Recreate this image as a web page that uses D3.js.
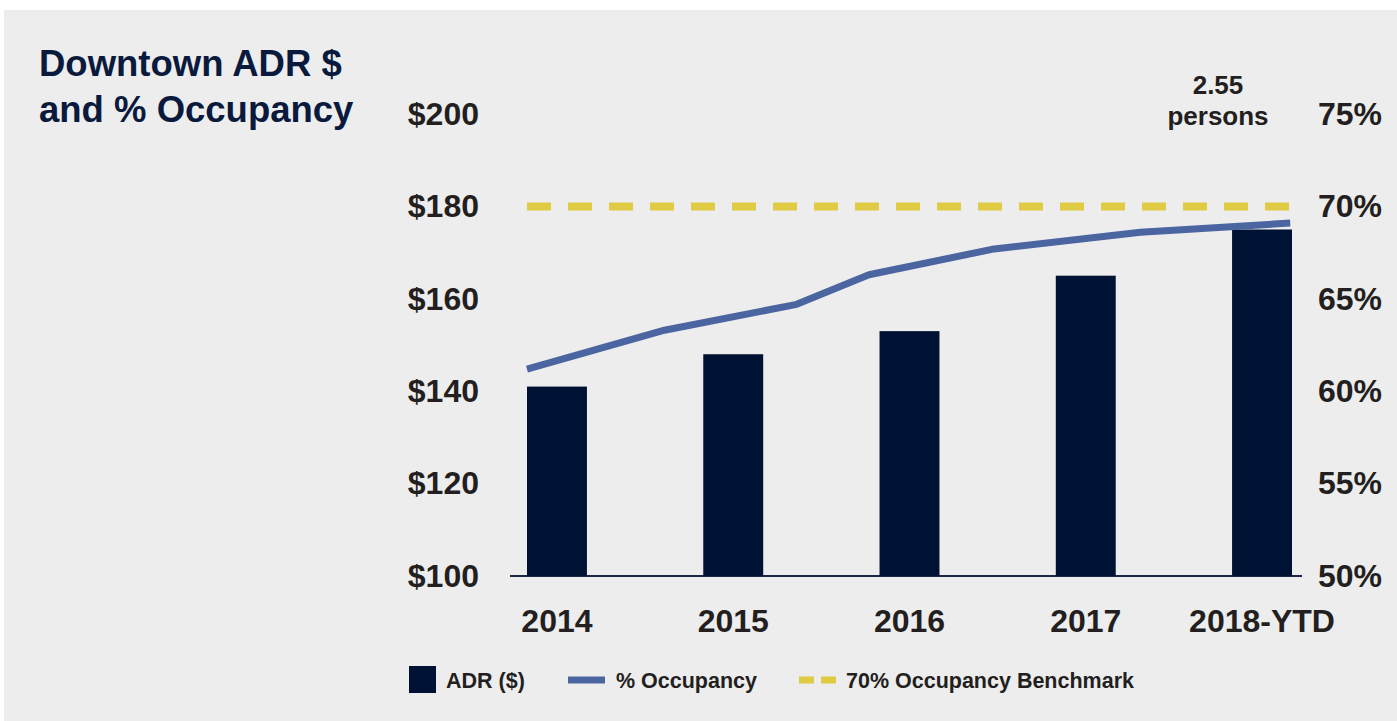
<!DOCTYPE html>
<html>
<head>
<meta charset="utf-8">
<script src="https://cdn.jsdelivr.net/npm/d3@7"></script>
<style>
  body { margin: 0; background: #ffffff; }
  text { font-family: "Liberation Sans", Arial, sans-serif; font-weight: bold; }
</style>
</head>
<body>
<div id="chart"></div>
<script>
// chart data
let years = ['2014', '2015', '2016', '2017', '2018-YTD'];
let adrValues = [141, 148, 153, 165, 175];

// occupancy line points (position in years, value in %)
let occYears = [2013.83, 2014.61, 2015.36, 2015.77, 2016.48, 2017.31, 2018.16];
let occValues = [61.2, 63.3, 64.7, 66.3, 67.7, 68.6, 69.1];

let benchmark = 70;
let adrTicks = [100, 120, 140, 160, 180, 200];
let occTicks = [50, 55, 60, 65, 70, 75];
let legendLabels = ['ADR ($)', '% Occupancy', '70% Occupancy Benchmark'];

let width = 1397, height = 721;
let margin = {top: 114, right: 95, bottom: 145, left: 510};
let innerW = width - margin.left - margin.right;
let innerH = height - margin.top - margin.bottom;

let barColor = '#001233', lineColor = '#4a65a0', benchColor = '#e0cb44';
let textColor = '#231f20', titleColor = '#0a1a3d';

let svg = d3.select('#chart')
    .append('svg')
    .attr('width', width)
    .attr('height', height);

// grey panel
svg.append('rect')
    .attr('x', 4).attr('y', 10)
    .attr('width', width - 4).attr('height', height - 10)
    .attr('fill', '#ededed');

// title
let title = svg.append('text')
    .attr('fill', titleColor)
    .style('font-size', '36.5px');
title.append('tspan').attr('x', 39).attr('y', 76).text('Downtown ADR $');
title.append('tspan').attr('x', 39).attr('y', 122).text('and % Occupancy');

let g = svg.append('g')
    .attr('transform', 'translate(' + margin.left + ',' + margin.top + ')');

// scales
let x = d3.scaleBand()
    .domain(years)
    .range([17, innerW - 10])
    .paddingInner(0.66)
    .paddingOuter(0);

let xYear = d3.scaleLinear()
    .domain([2014, 2018])
    .range([x('2014') + x.bandwidth() / 2, x('2018-YTD') + x.bandwidth() / 2]);

let yAdr = d3.scaleLinear().domain([100, 200]).range([innerH, 0]);
let yOcc = d3.scaleLinear().domain([50, 75]).range([innerH, 0]);

// baseline
g.append('line')
    .attr('x1', 0).attr('x2', innerW)
    .attr('y1', innerH).attr('y2', innerH)
    .attr('stroke', '#1a2745')
    .attr('stroke-width', 2);

// bars
g.selectAll('.bar')
    .data(years)
    .enter()
    .append('rect')
    .attr('class', 'bar')
    .attr('x', d => x(d))
    .attr('y', (d, i) => yAdr(adrValues[i]))
    .attr('width', x.bandwidth())
    .attr('height', (d, i) => innerH - yAdr(adrValues[i]))
    .attr('fill', barColor);

// benchmark dashed line
g.append('line')
    .attr('x1', xYear(occYears[0]))
    .attr('x2', xYear(occYears[occYears.length - 1]))
    .attr('y1', yOcc(benchmark))
    .attr('y2', yOcc(benchmark))
    .attr('stroke', benchColor)
    .attr('stroke-width', 8)
    .attr('stroke-dasharray', '24,17');

// occupancy line
g.append('path')
    .datum(occValues)
    .attr('fill', 'none')
    .attr('stroke', lineColor)
    .attr('stroke-width', 7)
    .attr('stroke-linejoin', 'round')
    .attr('d', d3.line()
        .x((d, i) => xYear(occYears[i]))
        .y(d => yOcc(d)));

// axes
let leftAxis = g.append('g')
    .call(d3.axisLeft(yAdr).tickValues(adrTicks).tickSize(0).tickPadding(31)
        .tickFormat(d => '$' + d));
let rightAxis = g.append('g')
    .attr('transform', 'translate(' + innerW + ',0)')
    .call(d3.axisRight(yOcc).tickValues(occTicks).tickSize(0).tickPadding(16)
        .tickFormat(d => d + '%'));
let bottomAxis = g.append('g')
    .attr('transform', 'translate(0,' + innerH + ')')
    .call(d3.axisBottom(x).tickSize(0).tickPadding(33));

[leftAxis, rightAxis, bottomAxis].forEach(a => {
    a.select('.domain').remove();
    a.selectAll('text')
        .attr('fill', textColor)
        .style('font-size', '32px')
        .style('font-family', '"Liberation Sans", Arial, sans-serif')
        .style('font-weight', 'bold');
});

// annotation
let note = svg.append('text')
    .attr('fill', textColor)
    .style('font-size', '26px')
    .style('text-anchor', 'middle');
note.append('tspan').attr('x', 1218).attr('y', 94).text('2.55');
note.append('tspan').attr('x', 1218).attr('y', 125).text('persons');

// legend
let legend = svg.append('g').attr('transform', 'translate(0,680)');
legend.append('rect')
    .attr('x', 409).attr('y', -14)
    .attr('width', 27).attr('height', 27)
    .attr('fill', barColor);
legend.append('line')
    .attr('x1', 568).attr('x2', 605)
    .attr('y1', 0).attr('y2', 0)
    .attr('stroke', lineColor).attr('stroke-width', 7);
legend.append('line')
    .attr('x1', 799).attr('x2', 837)
    .attr('y1', 0).attr('y2', 0)
    .attr('stroke', benchColor).attr('stroke-width', 7)
    .attr('stroke-dasharray', '15,7');

let legendX = [446, 616, 846];
legend.selectAll('.legend-label')
    .data(legendLabels)
    .enter()
    .append('text')
    .attr('class', 'legend-label')
    .attr('x', (d, i) => legendX[i])
    .attr('y', 8)
    .attr('fill', textColor)
    .style('font-size', '21.5px')
    .text(d => d);
</script>
</body>
</html>
